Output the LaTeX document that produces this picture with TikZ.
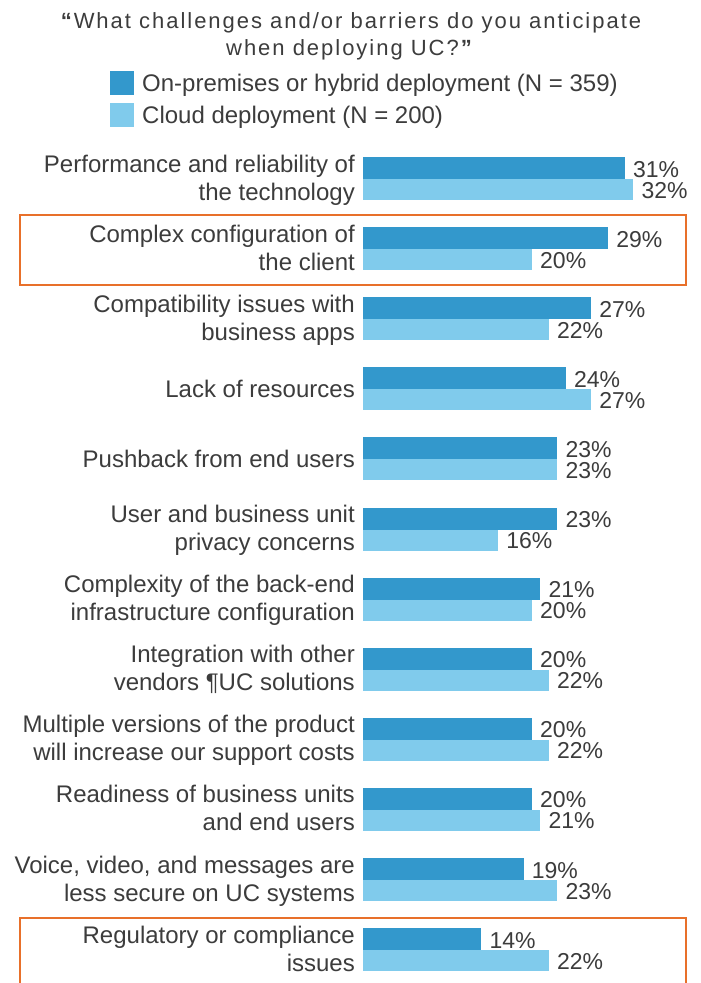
\documentclass[tikz,border=0pt]{standalone}
\usepackage{fontspec}
\setmainfont{Liberation Sans}
\newfontfamily\titlefont[LetterSpace=9]{Liberation Sans}
\definecolor{darkbar}{HTML}{3398CC}
\definecolor{lightbar}{HTML}{80CBEC}
\definecolor{txt}{HTML}{3C3C3C}
\definecolor{boxorange}{HTML}{E8702A}
\tikzset{
  lab/.style={inner sep=0pt, text=txt, font=\fontsize{24}{28}\selectfont, anchor=base east},
  leg/.style={inner sep=0pt, text=txt, font=\fontsize{24}{28}\selectfont, anchor=base west},
  pct/.style={inner sep=0pt, text=txt, font=\fontsize{23}{28}\selectfont, anchor=base west},
  ttl/.style={inner sep=0pt, text=txt, font=\titlefont\fontsize{22}{27}\selectfont, anchor=base},
  hlbox/.style={draw=boxorange, line width=2pt}
}
\newcommand{\ucbars}[3]{%
  \pgfmathsetmacro{\cy}{179+70.1*#1}%
  \pgfmathsetmacro{\dx}{363+8.45*#2}%
  \pgfmathsetmacro{\lx}{363+8.45*#3}%
  \fill[darkbar] (363,\cy-22) rectangle (\dx,\cy);
  \fill[lightbar] (363,\cy) rectangle (\lx,\cy+21);
  \node[pct] (pd#1) at (\dx+8,\cy-2) {#2\%};
  \node[pct] (pl#1) at (\lx+8,\cy+19) {#3\%};
}
\newcommand{\uctwo}[3]{%
  \pgfmathsetmacro{\cy}{179+70.1*#1}%
  \node[lab] (la#1) at (355,\cy-7) {#2};
  \node[lab] (lb#1) at (355,\cy+21) {#3};
}
\newcommand{\ucone}[2]{%
  \pgfmathsetmacro{\cy}{179+70.1*#1}%
  \node[lab] (la#1) at (355,\cy+8) {#2};
}
\begin{document}
\begin{tikzpicture}[x=1pt,y=-1pt]
\useasboundingbox (0,0) rectangle (701,983);
\fill[white] (0,0) rectangle (701,983);
% title
\node[ttl] (t1) at (351,28) {\textbf{“}What challenges and/or barriers do you anticipate};
\node[ttl] (t2) at (350,55) {when deploying UC?\textbf{”}};
% legend
\fill[darkbar] (110,71) rectangle (134,95);
\fill[lightbar] (110,103) rectangle (134,127);
\node[leg] (leg1) at (142,91) {On-premises or hybrid deployment (N = 359)};
\node[leg] (leg2) at (142,123) {Cloud deployment (N = 200)};
% boxes
\draw[hlbox] (20,215) rectangle (686,285);
\draw[hlbox] (20,990) -- (20,918) -- (686,918) -- (686,990);
% groups
\uctwo{0}{Performance and reliability of}{the technology}
\ucbars{0}{31}{32}
\uctwo{1}{Complex configuration of}{the client}
\ucbars{1}{29}{20}
\uctwo{2}{Compatibility issues with}{business apps}
\ucbars{2}{27}{22}
\ucone{3}{Lack of resources}
\ucbars{3}{24}{27}
\ucone{4}{Pushback from end users}
\ucbars{4}{23}{23}
\uctwo{5}{User and business unit}{privacy concerns}
\ucbars{5}{23}{16}
\uctwo{6}{Complexity of the back-end}{infrastructure configuration}
\ucbars{6}{21}{20}
\uctwo{7}{Integration with other}{vendors ¶UC solutions}
\ucbars{7}{20}{22}
\uctwo{8}{Multiple versions of the product}{will increase our support costs}
\ucbars{8}{20}{22}
\uctwo{9}{Readiness of business units}{and end users}
\ucbars{9}{20}{21}
\uctwo{10}{Voice, video, and messages are}{less secure on UC systems}
\ucbars{10}{19}{23}
\uctwo{11}{Regulatory or compliance}{issues}
\ucbars{11}{14}{22}
\end{tikzpicture}
\end{document}
